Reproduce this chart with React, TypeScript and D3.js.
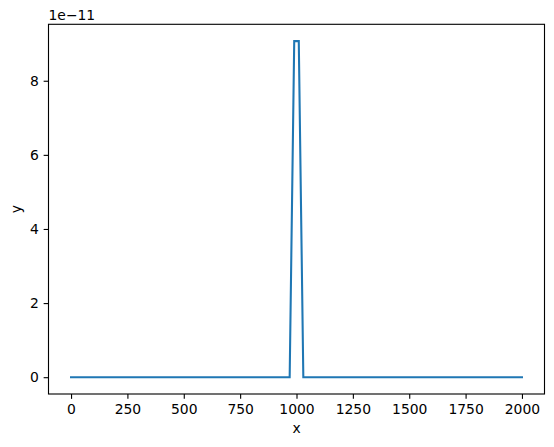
import React, { useEffect, useRef } from "react";
import * as d3 from "d3";

// samples (x in data units, y in units of 1e-11)
const xValues = [0, 969.7, 989.9, 1010.1, 1030.3, 2000];
const yValues = [0, 0, 9.07, 9.07, 0, 0];
const xTicks = [0, 250, 500, 750, 1000, 1250, 1500, 1750, 2000];
const yTicks = [0, 2, 4, 6, 8];

const App = () => {
  const svgRef = useRef<SVGSVGElement | null>(null);
  const w = 554;
  const h = 447;
  const m = { top: 24.3, right: 9.5, bottom: 53, left: 48.5 };
  const font = "DejaVu Sans, sans-serif";
  const fs = 13.9;
  const tickLen = 4.86;

  useEffect(() => {
    d3.select(svgRef.current).selectAll("*").remove();
    const svg = d3.select(svgRef.current).attr("width", w).attr("height", h);

    const iw = w - m.left - m.right;
    const ih = h - m.top - m.bottom;

    const xScale = d3.scaleLinear().domain([-100, 2100]).range([m.left, m.left + iw]);
    const yMax = d3.max(yValues)!;
    const pad = yMax * 0.05;
    const yScale = d3.scaleLinear().domain([-pad, yMax + pad]).range([m.top + ih, m.top]);

    svg.append("rect").attr("width", w).attr("height", h).attr("fill", "white");

    const pts = xValues.map((x, i) => [x, yValues[i]] as [number, number]);
    const line = d3.line<[number, number]>()
      .x((d) => xScale(d[0]))
      .y((d) => yScale(d[1]));

    svg.append("path")
      .datum(pts)
      .attr("d", line)
      .attr("fill", "none")
      .attr("stroke", "#1f77b4")
      .attr("stroke-width", 2.08)
      .attr("stroke-linejoin", "miter")
      .attr("stroke-linecap", "square");

    // x axis
    const xAxis = svg.append("g").attr("transform", `translate(0, ${m.top + ih})`);
    xAxis.call(d3.axisBottom(xScale).tickValues(xTicks).tickSize(tickLen).tickPadding(4.86).tickFormat(d3.format("d")));
    xAxis.select(".domain").remove();

    const yAxis = svg.append("g").attr("transform", `translate(${m.left}, 0)`);
    yAxis.call(d3.axisLeft(yScale).tickValues(yTicks).tickSize(tickLen).tickPadding(4.86).tickFormat(d3.format("d")));
    yAxis.select(".domain").remove();

    svg.selectAll(".tick line").attr("stroke", "black").attr("stroke-width", 1.11);
    svg.selectAll(".tick text")
      .attr("fill", "black")
      .style("font-family", font)
      .style("font-size", `${fs}px`);

    // frame
    svg.append("rect")
      .attr("x", m.left)
      .attr("y", m.top)
      .attr("width", iw)
      .attr("height", ih)
      .attr("fill", "none")
      .attr("stroke", "black")
      .attr("stroke-width", 1.11);

    svg.append("text")
      .attr("x", m.left + iw / 2)
      .attr("y", 433)
      .attr("text-anchor", "middle")
      .style("font-family", font)
      .style("font-size", `${fs}px`)
      .text("x");

    svg.append("text")
      .attr("transform", `translate(21, ${m.top + ih / 2}) rotate(-90)`)
      .attr("text-anchor", "middle")
      .style("font-family", font)
      .style("font-size", `${fs}px`)
      .text("y");

    svg.append("text")
      .attr("x", m.left)
      .attr("y", 20)
      .style("font-family", font)
      .style("font-size", `${fs}px`)
      .text("1e\u221211");
  }, []);

  return <svg ref={svgRef} style={{ position: "absolute", left: 0, top: 0 }}></svg>;
};

export default App;
